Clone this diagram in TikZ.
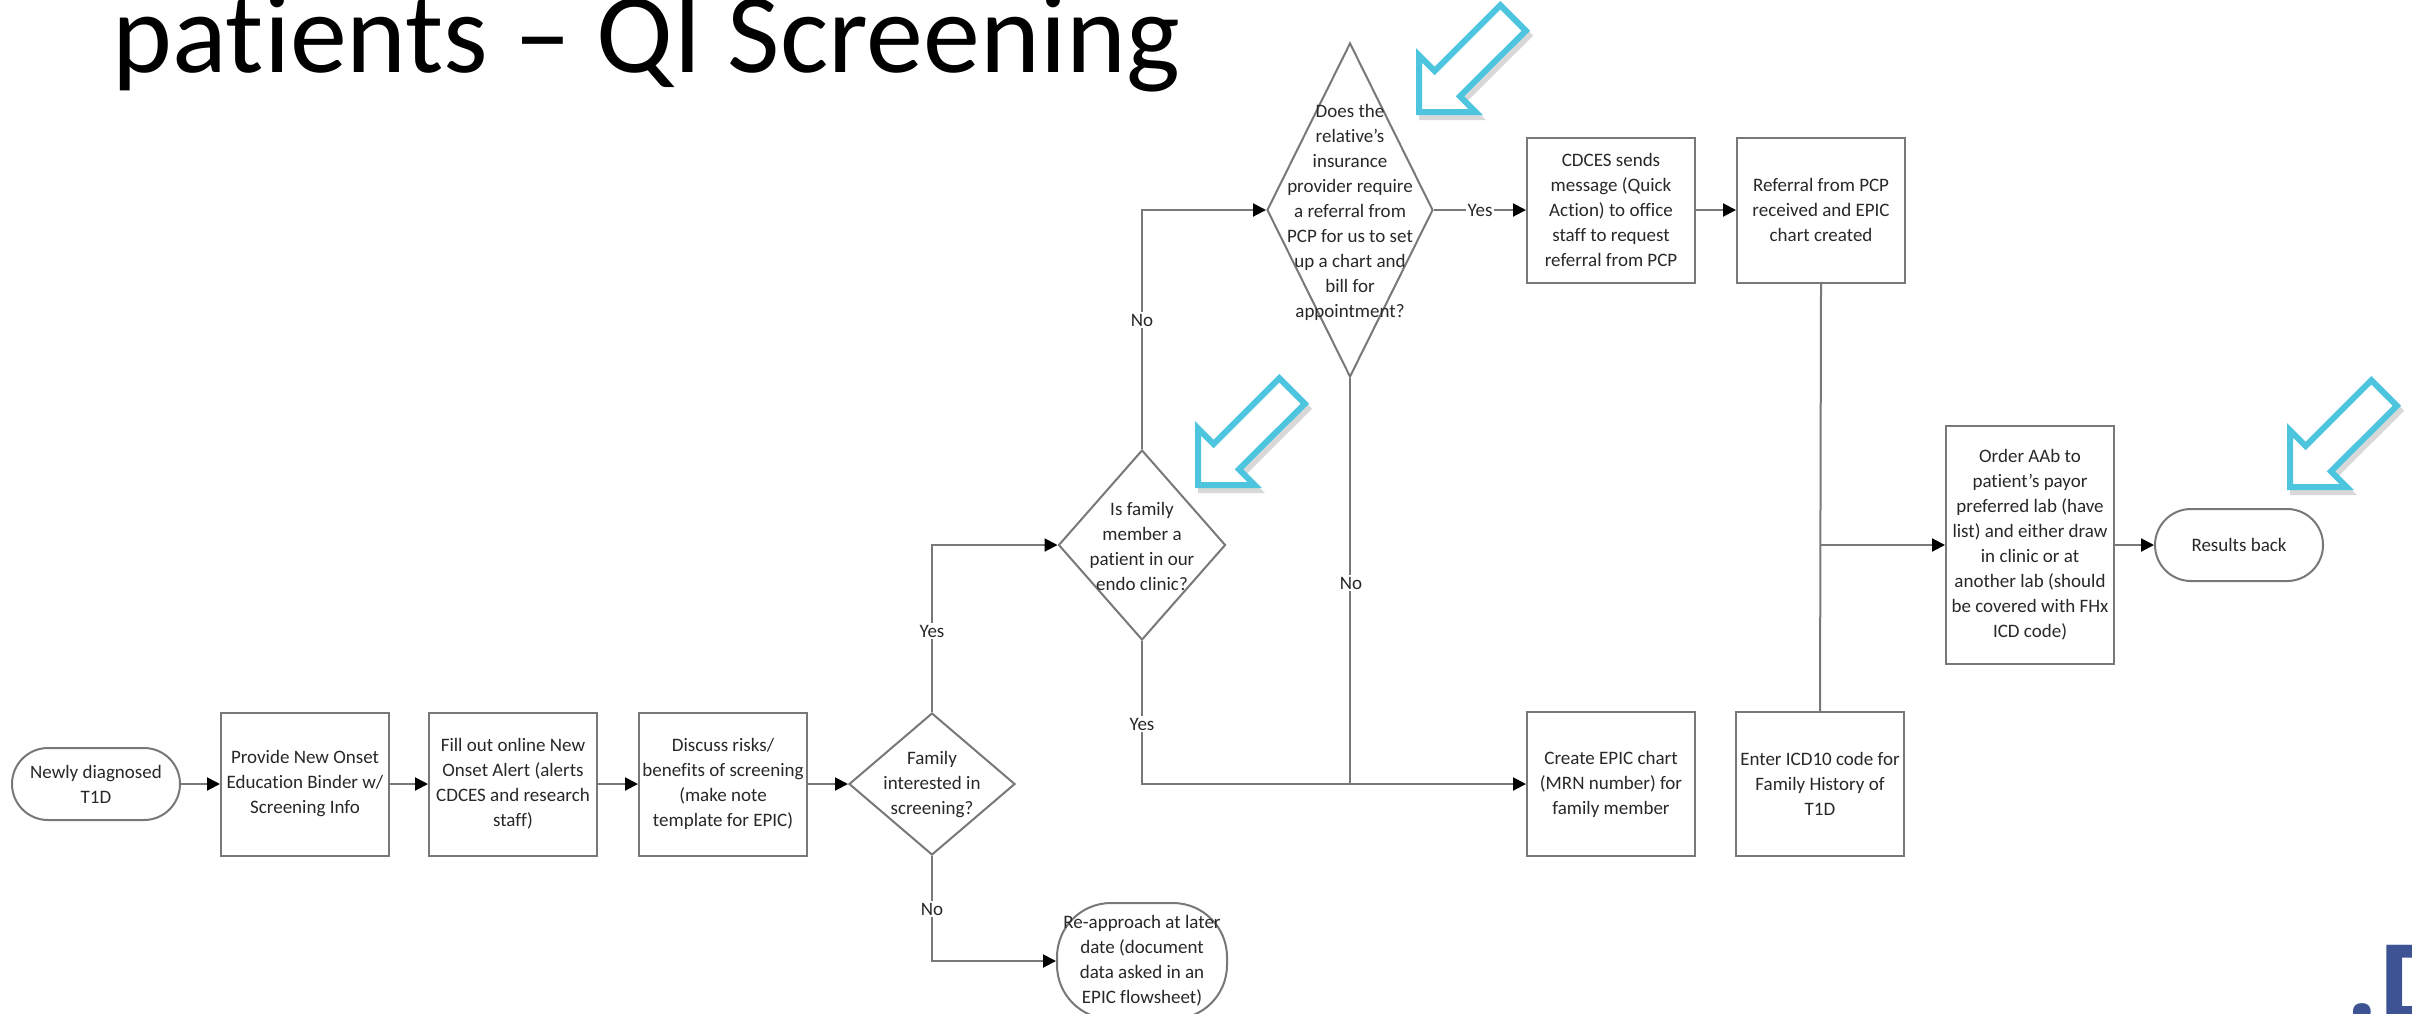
\documentclass[tikz,border=0pt]{standalone}
\usepackage{fontspec}
\setmainfont{Carlito}[Ligatures=NoCommon]
\newfontfamily\logofont{Open Sans}
\usetikzlibrary{arrows.meta,shapes.geometric,calc}
\definecolor{linegray}{RGB}{120,120,120}
\definecolor{txtgray}{RGB}{40,40,40}
\definecolor{calloutblue}{RGB}{78,197,222}
\definecolor{logoblue}{RGB}{62,83,147}
\begin{document}
\begin{tikzpicture}[x=0.5pt,y=-0.5pt,
  base/.style={draw=linegray, line width=1pt, text=txtgray, inner sep=1pt, align=center,
    font=\fontsize{9.5}{12.5}\selectfont},
  procbox/.style={base, rectangle, minimum width=84pt},
  term/.style={base, rectangle, rounded corners=18pt, minimum width=84pt, minimum height=36pt},
  decision/.style={draw=linegray, line width=1pt, diamond, inner sep=0pt},
  dtext/.style={text=txtgray, inner sep=0pt, align=center, font=\fontsize{9.5}{12.5}\selectfont},
  lbl/.style={text=txtgray, fill=white, inner sep=1pt, font=\fontsize{9.5}{11}\selectfont},
  conn/.style={draw=linegray, line width=1pt, -{Triangle[length=6.5pt,width=6.5pt,fill=black,color=black]}},
  plain/.style={draw=linegray, line width=1pt},
  callout/.pic={
    \draw[black!30, opacity=0.5, line width=3pt, line join=miter, shift={(3,5)}]
      (0,0) -- (0,-56.6) -- (15.6,-41) -- (81.3,-106.8) -- (106.8,-81.3) -- (41,-15.6) -- (56.6,0) -- cycle;
    \draw[calloutblue, fill=white, line width=3pt, line join=miter]
      (0,0) -- (0,-56.6) -- (15.6,-41) -- (81.3,-106.8) -- (106.8,-81.3) -- (41,-15.6) -- (56.6,0) -- cycle;
  }]
\useasboundingbox (0,0) rectangle (2412,1013);
\clip (0,0) rectangle (2412,1013);
\fill[white] (0,0) rectangle (2412,1013);

% title
\node[anchor=base west, inner sep=0pt, font=\fontsize{57}{62}\selectfont] (title) at (112,72) {patients – QI Screening};

% main row
\node[term] (start) at (96,784) {Newly diagnosed\\T1D};
\node[procbox, minimum height=71.5pt] (prov) at (305,784) {Provide New Onset\\Education Binder w/\\Screening Info};
\node[procbox, minimum height=71.5pt] (fill) at (513,784) {Fill out online New\\Onset Alert (alerts\\CDCES and research\\staff)};
\node[procbox, minimum height=71.5pt] (disc) at (723,784) {Discuss risks/\\benefits of screening\\(make note\\template for EPIC)};
\node[decision, minimum width=83pt, minimum height=71pt] (fam) at (932,784) {};
\node[dtext] (famt) at (932,785) {Family\\interested in\\screening?};

\node[base, rectangle, rounded corners=27pt, minimum width=85pt, minimum height=58pt] (reap) at (1142,961) {Re-approach at later\\date (document\\data asked in an\\EPIC flowsheet)};

\node[decision, minimum width=83.5pt, minimum height=95pt] (isfam) at (1142,545) {};
\node[dtext] (isfamt) at (1142,546) {Is family\\member a\\patient in our\\endo clinic?};

\node[decision, minimum width=83pt, minimum height=167pt] (does) at (1350,210) {};
\node[dtext] (doest) at (1350,212) {Does the\\relative's\\insurance\\provider require\\a referral from\\PCP for us to set\\up a chart and\\bill for\\appointment?};

\node[procbox, minimum height=72.5pt] (cdces) at (1611,210) {CDCES sends\\message (Quick\\Action) to office\\staff to request\\referral from PCP};
\node[procbox, minimum height=72.5pt] (ref) at (1821,210) {Referral from PCP\\received and EPIC\\chart created};

\node[procbox, minimum height=72pt] (create) at (1611,784) {Create EPIC chart\\(MRN number) for\\family member};
\node[procbox, minimum height=72pt] (icd) at (1820,784) {Enter ICD10 code for\\Family History of\\T1D};

\node[procbox, minimum height=119pt] (order) at (2030,545) {Order AAb to\\patient's payor\\preferred lab (have\\list) and either draw\\in clinic or at\\another lab (should\\be covered with FHx\\ICD code)};
\node[term] (res) at (2239,545) {Results back};

% connectors
\draw[conn] (start) -- (prov);
\draw[conn] (prov) -- (fill);
\draw[conn] (fill) -- (disc);
\draw[conn] (disc) -- (fam.west);
\draw[conn] (fam.south) |- (reap.west);
\node[lbl] (lno1) at (932,909) {No};
\draw[conn] (fam.north) |- (isfam.west);
\node[lbl] (lyes1) at (932,631) {Yes};
\draw[conn] (isfam.north) |- (does.west);
\node[lbl] (lno2) at (1142,320) {No};
\draw[conn] (isfam.south) |- (create.west);
\node[lbl] (lyes2) at (1142,724) {Yes};
\coordinate (jdoes) at (does.south |- create.west);
\draw[plain] (does.south) -- (jdoes);
\node[lbl] (lno3) at (1351,583) {No};
\draw[conn] (does.east) -- (cdces.west);
\node[lbl] (lyes3) at ($(does.east)!0.5!(cdces.west)$) {Yes};
\draw[conn] (cdces) -- (ref);
\draw[plain] (ref.south) -- (icd.north);
\coordinate (jref) at (ref.south |- order.west);
\draw[conn] (jref) -- (order.west);
\draw[conn] (order) -- (res);

% callout arrows
\pic at (1419,112) {callout};
\pic at (1198,485) {callout};
\pic at (2290,487) {callout};

% logo fragment
\node[anchor=base west, inner sep=0pt, text=logoblue, font=\logofont\bfseries\fontsize{52}{52}\selectfont] (logo) at (2347,1019) {.D};
\end{tikzpicture}
\end{document}
